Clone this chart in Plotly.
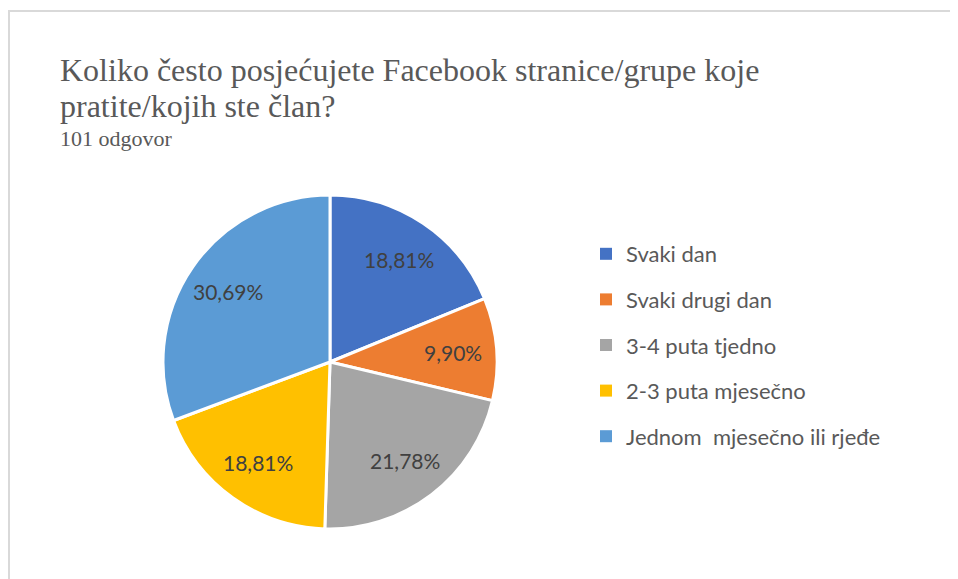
import math
import plotly.graph_objects as go

categories = ["Svaki dan", "Svaki drugi dan", "3-4 puta tjedno", "2-3 puta mjesečno", "Jednom\u00a0 mjesečno ili rjeđe"]
counts = [19, 10, 22, 19, 31]
colors = ["#4472C4", "#ED7D31", "#A5A5A5", "#FFC000", "#5B9BD5"]
title_lines = ["Koliko često posjećujete Facebook stranice/grupe koje", "pratite/kojih ste član?"]
subtitle = "101 odgovor"

W, H = 958, 579
OFF = 8  # page body margin
cx, cy, r = 330 - OFF, 362 - OFF, 167
label_radius = 0.74

fig = go.Figure()
fig.add_trace(go.Pie(
    labels=categories, values=counts, sort=False, direction="clockwise", rotation=0,
    marker=dict(colors=colors, line=dict(color="white", width=3)),
    textinfo="none", showlegend=False, hoverinfo="label+percent",
    domain=dict(x=[(cx - r) / W, (cx + r) / W], y=[1 - (cy + r) / H, 1 - (cy - r) / H]),
))
for i, (c, col) in enumerate(zip(categories, colors)):
    fig.add_trace(go.Scatter(x=[None], y=[None], mode="markers", name=c,
                             marker=dict(symbol="square", size=10, color=col),
                             legendgroup=str(i), showlegend=True, hoverinfo="skip"))

# percentage labels placed along each slice's mid-angle
total = sum(counts)
annotations = []
cum = 0
for v in counts:
    mid = (cum + v / 2) / total * 2 * math.pi
    cum += v
    px = cx + label_radius * r * math.sin(mid)
    py = cy - label_radius * r * math.cos(mid)
    pct = f"{100 * v / total:.2f}".replace(".", ",") + "%"
    annotations.append(dict(text=pct, x=px / W, y=1 - py / H, xref="paper", yref="paper",
                            xanchor="center", yanchor="middle", showarrow=False,
                            font=dict(family="Lato", size=21, color="#404040")))

title_font = dict(family="Liberation Serif", size=32, color="#595959")
annotations += [
    dict(text=title_lines[0], x=(58 - OFF) / W, y=1 - (70 - OFF) / H, xref="paper", yref="paper",
         xanchor="left", yanchor="middle", showarrow=False, font=title_font),
    dict(text=title_lines[1], x=(58 - OFF) / W, y=1 - (106 - OFF) / H, xref="paper", yref="paper",
         xanchor="left", yanchor="middle", showarrow=False, font=title_font),
    dict(text=subtitle, x=(58 - OFF) / W, y=1 - (138 - OFF) / H, xref="paper", yref="paper",
         xanchor="left", yanchor="middle", showarrow=False,
         font=dict(family="Liberation Serif", size=22, color="#595959")),
]

fig.update_layout(
    width=W, height=H, margin=dict(l=0, r=0, t=0, b=0),
    paper_bgcolor="white", plot_bgcolor="white", separators=",.",
    xaxis=dict(visible=False), yaxis=dict(visible=False),
    legend=dict(x=(586 - OFF) / W, y=1 - (233 - OFF) / H, xanchor="left", yanchor="top",
                font=dict(family="Lato", size=22, color="#595959"),
                tracegroupgap=14, itemsizing="constant", bgcolor="rgba(0,0,0,0)"),
    annotations=annotations,
    shapes=[dict(type="rect", xref="paper", yref="paper", x0=(9 - OFF) / W, x1=1.05,
                 y0=-0.05, y1=1 - (11 - OFF) / H,
                 line=dict(color="#D9D9D9", width=2), layer="below")],
)
fig.write_html("out.html")
